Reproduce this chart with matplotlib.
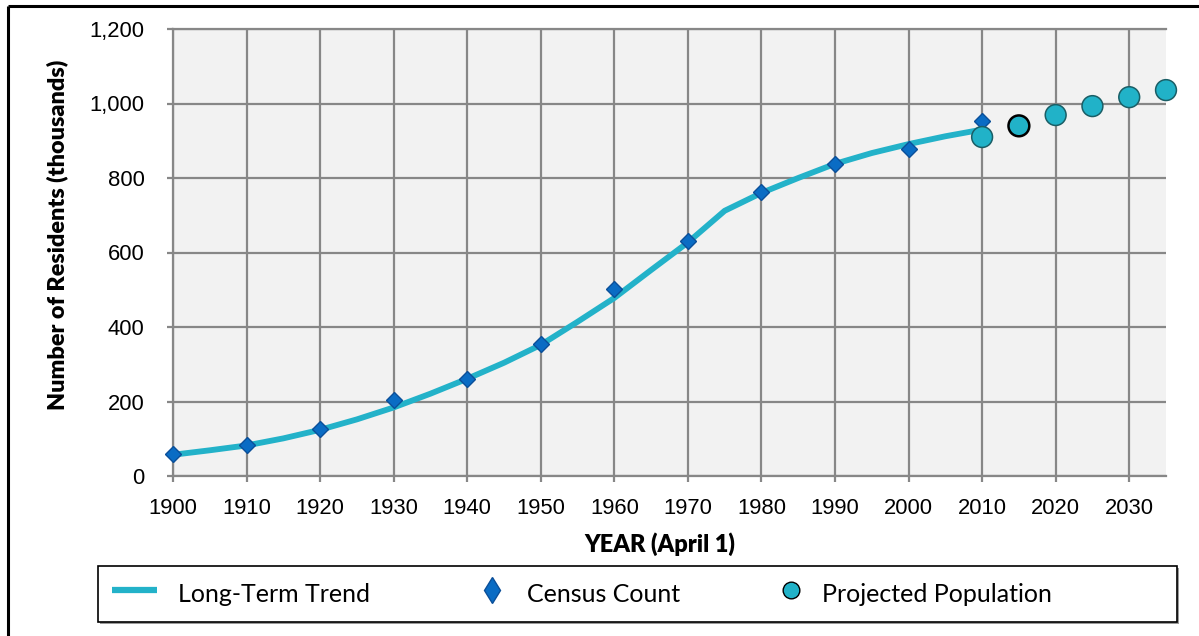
import matplotlib
matplotlib.use("Agg")
import matplotlib.pyplot as plt
from matplotlib.lines import Line2D
from matplotlib.patches import Rectangle
from matplotlib.ticker import FuncFormatter

plt.rcParams["font.family"] = ["Liberation Sans", "DejaVu Sans"]

# ---- data ----
trend_years = [1900, 1905, 1910, 1915, 1920, 1925, 1930, 1935, 1940, 1945, 1950,
               1955, 1960, 1965, 1970, 1975, 1980, 1985, 1990, 1995, 2000, 2005, 2010]
trend_values = [57, 69, 82, 101, 124, 152, 184, 221, 261, 304, 352,
                414, 478, 553, 627, 712, 760, 800, 838, 867, 891, 912, 930]

census_years = [1900, 1910, 1920, 1930, 1940, 1950, 1960, 1970, 1980, 1990, 2000, 2010]
census_values = [59, 83, 126, 204, 260, 354, 502, 631, 762, 838, 878, 953]

proj_years = [2010, 2015, 2020, 2025, 2030, 2035]
proj_values = [910, 940, 969, 993, 1017, 1036]

x_ticks = [1900, 1910, 1920, 1930, 1940, 1950, 1960, 1970, 1980, 1990, 2000, 2010, 2020, 2030]
y_ticks = [0, 200, 400, 600, 800, 1000, 1200]

legend_labels = ["Long-Term Trend", "Census Count", "Projected Population"]

# ---- style ----
W, H = 1199, 636
TREND_C = "#23B2C9"
DIAM_FC = "#0A6CC4"
DIAM_EC = "#0B4F99"
CIRC_FC = "#21B2C8"
CIRC_EC = "#1A5E66"
GRID_C = "#878787"
BG_C = "#F2F2F2"

fig = plt.figure(figsize=(W / 100, H / 100), dpi=100)
fig.patch.set_facecolor("white")

def fx(px):
    return px / W

def fy(py):
    return 1 - py / H

ax = fig.add_axes([fx(173), fy(476), fx(1166) - fx(173), fy(29) - fy(476)])
ax.set_facecolor(BG_C)
ax.set_xlim(1900, 2035)
ax.set_ylim(0, 1200)
ax.set_xticks(x_ticks)
ax.set_yticks(y_ticks)
ax.yaxis.set_major_formatter(FuncFormatter(lambda v, p: f"{int(v):,}"))

ax.grid(True, color=GRID_C, linewidth=1.6, zorder=0)
ax.set_axisbelow(True)
for s in ["top", "right"]:
    ax.spines[s].set_visible(False)
for s in ["left", "bottom"]:
    ax.spines[s].set_color(GRID_C)
    ax.spines[s].set_linewidth(1.6)

ax.tick_params(axis="both", colors=GRID_C, width=1.6, length=4.5,
               labelcolor="black", labelsize=15.8)
ax.tick_params(axis="x", pad=11)
ax.tick_params(axis="y", pad=16)

# top gridline visible at 1200
ax.axhline(1200, color=GRID_C, linewidth=1.6, zorder=1, clip_on=False)

ax.plot(trend_years, trend_values, color=TREND_C, linewidth=4.2,
        solid_capstyle="butt", zorder=3)
ax.plot(census_years, census_values, linestyle="none", marker="D",
        markersize=8.3, markerfacecolor=DIAM_FC, markeredgecolor=DIAM_EC,
        markeredgewidth=1.0, zorder=4, clip_on=False)
edge_colors = [CIRC_EC] * len(proj_years)
edge_colors[1] = "black"
ax.scatter(proj_years, proj_values, s=15.0 ** 2, c=CIRC_FC,
           edgecolors=edge_colors, linewidths=[1.1, 1.8, 1.1, 1.1, 1.1, 1.1],
           zorder=5, clip_on=False)

# axis titles
label_font = ["Lato", "DejaVu Sans"]
fig.text(fx(660), fy(544), "YEAR (April 1)", ha="center", va="center",
         fontsize=17, fontweight="heavy", family=label_font)
fig.text(fx(57), fy(235), "Number of Residents (thousands)", ha="center",
         va="center", rotation=90, fontsize=16.8, fontweight="heavy", family=label_font)

# legend (manual box)
shadow = Rectangle((fx(100), fy(624)), fx(1179) - fx(100), fy(568) - fy(624),
                   transform=fig.transFigure, facecolor="#9A9A9A",
                   edgecolor="none", zorder=1)
box = Rectangle((fx(98), fy(622)), fx(1177) - fx(98), fy(566) - fy(622),
                transform=fig.transFigure, facecolor="white",
                edgecolor="black", linewidth=1.2, zorder=2)
fig.add_artist(shadow)
fig.add_artist(box)
ly = fy(594)
fig.add_artist(Line2D([fx(112), fx(157)], [fy(590), fy(590)], transform=fig.transFigure,
                      color=TREND_C, linewidth=4.5, solid_capstyle="butt", zorder=3))
fig.add_artist(Line2D([fx(492)], [fy(590)], transform=fig.transFigure,
                      marker="d", markersize=13, markerfacecolor=DIAM_FC,
                      markeredgecolor=DIAM_EC, markeredgewidth=1.0, linestyle="none", zorder=3))
fig.add_artist(Line2D([fx(791)], [fy(590)], transform=fig.transFigure,
                      marker="o", markersize=12, markerfacecolor=CIRC_FC,
                      markeredgecolor="black", markeredgewidth=1.0, linestyle="none",
                      zorder=3))
leg_font = ["Lato", "DejaVu Sans"]
for xpx, txt in zip([178, 527, 822], legend_labels):
    fig.text(fx(xpx), ly, txt, ha="left", va="center", fontsize=18,
             family=leg_font, zorder=4)

# outer border (top and left visible)
fig.add_artist(Line2D([fx(7.5), 1.0], [fy(5.5), fy(5.5)], transform=fig.transFigure,
                      color="black", linewidth=2.2, solid_capstyle="butt"))
fig.add_artist(Line2D([fx(7.5), fx(7.5)], [fy(5.5), 0.0], transform=fig.transFigure,
                      color="black", linewidth=2.2, solid_capstyle="butt"))

fig.savefig("out.png", dpi=100, facecolor="white")
